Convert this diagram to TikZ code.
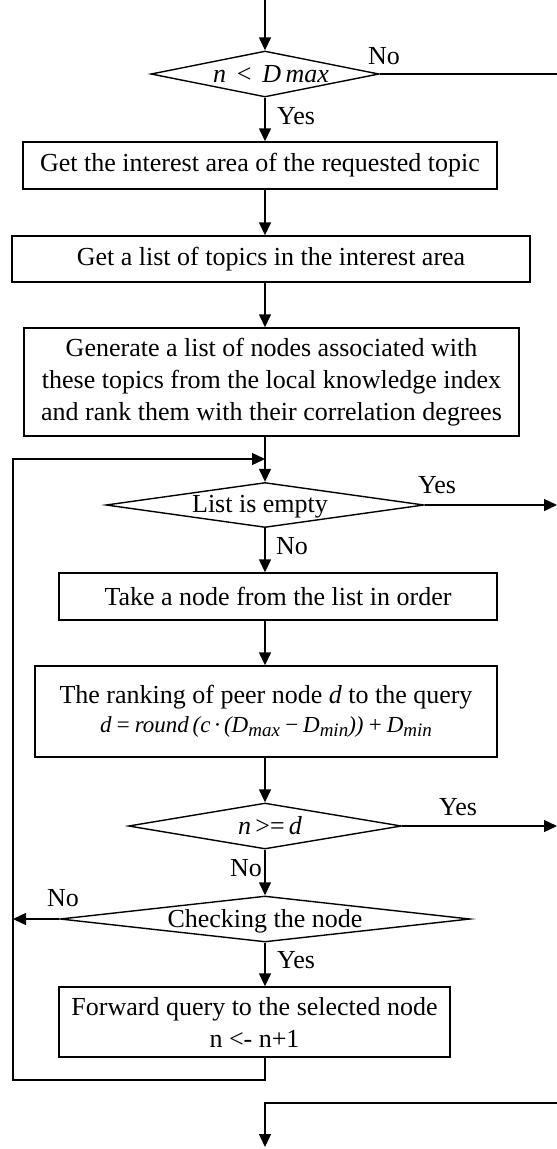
\documentclass[tikz,border=0pt]{standalone}
\usepackage{fontspec}
\setmainfont{Liberation Serif}
\usetikzlibrary{shapes.geometric,arrows.meta}
\newcommand{\lsub}[1]{\raisebox{-0.35ex}{\fontsize{19pt}{19pt}\selectfont\itshape #1}}
\begin{document}
\begin{tikzpicture}[x=1pt,y=-1pt,line width=1.4pt,
  every node/.style={font=\fontsize{26pt}{32pt}\selectfont},
  box/.style={draw,rectangle,inner sep=0pt,align=center},
  dia/.style={draw,diamond,inner sep=0pt,aspect=1},
  arr/.style={-{Triangle[length=13pt,width=12pt]}},
  lbl/.style={inner sep=0pt}]
\useasboundingbox (0,0) rectangle (557,1149);
% decisions
\node[dia,minimum width=228pt,minimum height=46pt] (d1) at (265,74) {};
\node[lbl] (t1) at (271,74) {{\itshape n}\, <\, {\itshape D\,max}};
\node[dia,minimum width=318pt,minimum height=45pt] (d2) at (265,505) {};
\node[lbl] (t2) at (260,507) {List is empty};
\node[dia,minimum width=273pt,minimum height=46pt] (d3) at (265,826) {};
\node[lbl] (t3) at (270,826) {{\itshape n}\,>=\,{\itshape d}};
\node[dia,minimum width=410pt,minimum height=46pt] (d4) at (265,919) {};
\node[lbl] (t4) at (265,921) {Checking the node};
% boxes
\node[box,minimum width=474pt,minimum height=47pt] (b1) at (260,165.5) {Get the interest area of the requested topic};
\node[box,minimum width=518pt,minimum height=46pt] (b2) at (271,259) {Get a list of topics in the interest area};
\node[box,minimum width=495pt,minimum height=108pt] (b3) at (271.5,382) {Generate a list of nodes associated with\\these topics from the local knowledge index\\and rank them with their correlation degrees};
\node[box,minimum width=438pt,minimum height=47pt] (b4) at (278,596.5) {Take a node from the list in order};
\node[box,minimum width=462pt,minimum height=91pt] (b5) at (266,711.5) {The ranking of peer node {\itshape d} to the query\\[-3pt]{\fontsize{23pt}{28pt}\selectfont\itshape d\,=\,round\,(c\,·\,(D\lsub{max}\,−\,D\lsub{min}))\,+\,D\lsub{min}}};
\node[box,minimum width=391pt,minimum height=70pt] (b6) at (254.5,1022) {Forward query to the selected node\\n <- n+1};
% labels
\node[lbl] (l1) at (384,56) {No};
\node[lbl] (l2) at (296,116) {Yes};
\node[lbl] (l3) at (437,485) {Yes};
\node[lbl] (l4) at (292,546) {No};
\node[lbl] (l5) at (458,807) {Yes};
\node[lbl] (l6) at (246,868) {No};
\node[lbl] (l7) at (63,898) {No};
\node[lbl] (l8) at (296,960) {Yes};
% free ends
\coordinate (top) at (265,0);
\coordinate (e1) at (557,74);
\coordinate (e2) at (557,505);
\coordinate (e3) at (557,826);
\coordinate (e4) at (557,1103);
\coordinate (bot) at (265,1147);
\coordinate (lb) at (13,1080);
\coordinate (lt) at (13,459);
% connectors
\draw[arr] (top) -- (d1.north);
\draw (d1.east) -- (e1);
\draw[arr] (d1.south) -- (d1 |- b1.north);
\draw[arr] (d1 |- b1.south) -- (d1 |- b2.north);
\draw[arr] (d1 |- b2.south) -- (d1 |- b3.north);
\draw[arr] (d1 |- b3.south) -- (d2.north);
\draw[arr] (d2.east) -- (e2);
\draw[arr] (d2.south) -- (d2 |- b4.north);
\draw[arr] (d2 |- b4.south) -- (d2 |- b5.north);
\draw[arr] (d2 |- b5.south) -- (d3.north);
\draw[arr] (d3.east) -- (e3);
\draw[arr] (d3.south) -- (d4.north);
\draw[arr] (d4.west) -- (d4.west -| lt);
\draw[arr] (d4.south) -- (d4 |- b6.north);
\draw[arr] (d4 |- b6.south) |- (lb) -- (lt) -- (lt -| d2);
\draw[arr] (e4) -| (bot);
\end{tikzpicture}
\end{document}
